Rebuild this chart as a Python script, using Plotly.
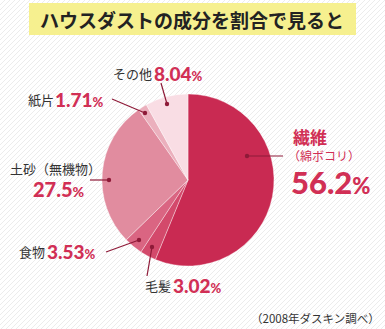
import plotly.graph_objects as go

# ---- data ----
categories = ["繊維", "毛髪", "食物", "土砂", "紙片", "その他"]
sublabels = ["（綿ボコリ）", "", "", "（無機物）", "", ""]
values = [56.2, 3.02, 3.53, 27.5, 1.71, 8.04]
value_text = ["56.2", "3.02", "3.53", "27.5", "1.71", "8.04"]
title_text = "ハウスダストの成分を割合で見ると"
source_text = "（2008年ダスキン調べ）"

# ---- styling ----
W, H = 385, 329
slice_colors = ["#c92a52", "#d3496b", "#da6582", "#e18c9f", "#ebb0bd", "#f9dde4"]
accent = "#d12f55"
leader = "#8e1a38"
ink = "#333333"
JP = "Noto Sans CJK JP"
NUM = "Lato"

cx, cy, r = 188, 180, 86  # pie centre / radius in px

def px(x):
    return x / W

def py(y):
    return 1 - y / H

fig = go.Figure()
fig.add_trace(go.Pie(
    labels=categories, values=values, sort=False, direction="clockwise",
    rotation=0, textinfo="none", hoverinfo="label+percent",
    marker=dict(colors=slice_colors, line=dict(color="rgba(255,255,255,0.45)", width=0.8)),
    domain=dict(x=[px(cx - r), px(cx + r)], y=[py(cy + r), py(cy - r)]),
    showlegend=False,
))

shapes = []
# striped background
path = []
step = 5
for a in range(-H, W + step, step):
    path.append(f"M{px(a)},{0} L{px(a + H)},{1}")
shapes.append(dict(type="path", xref="paper", yref="paper", path=" ".join(path),
                   line=dict(color="#ececec", width=1), layer="below"))
# title box
shapes.append(dict(type="rect", xref="paper", yref="paper",
                   x0=px(29), x1=px(356), y0=py(35), y1=py(3),
                   fillcolor="#f6f08f", line=dict(width=0), layer="below"))

# leader lines: (dot x, dot y, end x, end y)
leaders = [(247, 156, 283, 156), (152, 247, 147, 276), (139, 240, 106, 252),
           (109, 180, 90, 180), (145, 113, 112, 99), (167, 104, 161, 83)]
for (x0, y0, x1, y1) in leaders:
    shapes.append(dict(type="line", xref="paper", yref="paper",
                       x0=px(x0), y0=py(y0), x1=px(x1), y1=py(y1),
                       line=dict(color=leader, width=1.2)))
    shapes.append(dict(type="circle", xref="paper", yref="paper",
                       x0=px(x0 - 2.2), x1=px(x0 + 2.2), y0=py(y0 + 2.2), y1=py(y0 - 2.2),
                       fillcolor=leader, line=dict(width=0)))

ann = []

def num(v, size):
    return (f"<span style='font-family:{NUM};font-weight:900;font-size:{size}px'>{v}</span>"
            f"<span style='font-family:{NUM};font-weight:900;font-size:{int(size*0.72)}px'>%</span>")

def add(text, x, y, xanchor="left", size=12, color=ink, family=JP):
    ann.append(dict(text=text, x=px(x), y=py(y), xref="paper", yref="paper",
                    xanchor=xanchor, yanchor="middle", showarrow=False, borderpad=0,
                    font=dict(size=size, color=color, family=family)))

# title
add(f"<b>{title_text}</b>", 192, 19, xanchor="center", size=19, color="#222222")

# 繊維
add(f"<b>{categories[0]}</b>", 292, 137, size=17, color=accent)
add(sublabels[0], 287, 156, size=12, color=accent)
add(num(value_text[0], 31), 290, 182, color=accent)
# 毛髪
add(categories[1], 144, 285, size=13)
add(num(value_text[1], 19), 172, 285, color=accent)
# 食物
add(categories[2], 18, 251, size=13)
add(num(value_text[2], 19), 46, 251, color=accent)
# 土砂
add(categories[3] + sublabels[3], 9, 168, size=13)
add(num(value_text[3], 20), 32, 189, color=accent)
# 紙片
add(categories[4], 27, 99, size=13)
add(num(value_text[4], 19), 54, 99, color=accent)
# その他
add(categories[5], 112, 73, size=13)
add(num(value_text[5], 19), 153, 73, color=accent)
# source
add(source_text, 381, 318, xanchor="right", size=11.5, color=ink)

fig.update_layout(width=W, height=H, margin=dict(l=0, r=0, t=0, b=0),
                  paper_bgcolor="white", plot_bgcolor="white",
                  shapes=shapes, annotations=ann)
fig.write_html("out.html")
